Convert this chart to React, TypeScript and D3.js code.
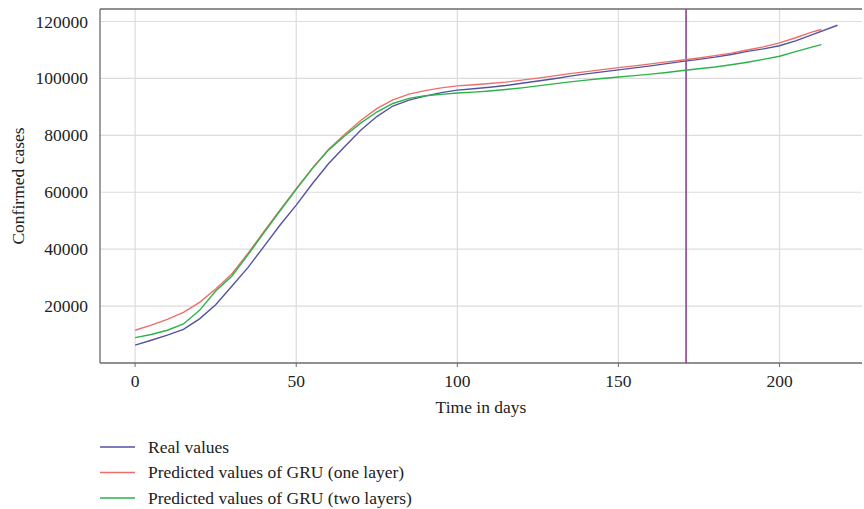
import React from 'react';
import * as d3 from 'd3';

// days sampled every 5 from 0 to 210
const days = [0, 5, 10, 15, 20, 25, 30, 35, 40, 45, 50, 55, 60, 65, 70, 75, 80, 85, 90, 95, 100, 105, 110, 115, 120, 125, 130, 135, 140, 145, 150, 155, 160, 165, 170, 175, 180, 185, 190, 195, 200, 205, 210];

const realValues = [6300, 8000, 9800, 11800, 15500, 20500, 27000, 33500, 41000, 48500, 55500, 63000, 70000, 76000, 81800, 86600, 90300, 92400, 93800, 95000, 95900, 96400, 96900, 97500, 98300, 99100, 99900, 100800, 101600, 102300, 103000, 103700, 104400, 105200, 106000, 106700, 107500, 108400, 109500, 110400, 111500, 113200, 115300];
const realEnd = { day: 218, value: 118700 };

const gruOneLayer = [11500, 13300, 15300, 17800, 21300, 26000, 31300, 38500, 46200, 53800, 61300, 68500, 75000, 80300, 85200, 89400, 92500, 94500, 95700, 96700, 97400, 97800, 98200, 98700, 99400, 100100, 100900, 101700, 102400, 103100, 103800, 104400, 105100, 105800, 106500, 107200, 108000, 108900, 110000, 111100, 112500, 114300, 116300];
const gruOneEnd = { day: 213, value: 117200 };

const gruTwoLayers = [8900, 10000, 11500, 13700, 18500, 25300, 30500, 38000, 45800, 53500, 61000, 68300, 74800, 79800, 84300, 88200, 91200, 93000, 93900, 94400, 94900, 95200, 95600, 96100, 96700, 97400, 98100, 98800, 99400, 100000, 100500, 101000, 101500, 102100, 102800, 103400, 104000, 104800, 105700, 106700, 107800, 109400, 111000];
const gruTwoEnd = { day: 213, value: 111900 };

const splitDay = 171;

const xTicks = [0, 50, 100, 150, 200];
const yTicks = [20000, 40000, 60000, 80000, 100000, 120000];

const seriesNames = ['Real values', 'Predicted values of GRU (one layer)', 'Predicted values of GRU (two layers)'];
const seriesColors = ['#5353a3', '#ec6f6a', '#2bb34a'];

const W = 864;
const H = 509;
const margin = { top: 9, right: 2, bottom: 146, left: 100 };
const font = '"Liberation Serif", "DejaVu Serif", serif';
const fs = 17.5;

export default function App() {
  const x = d3.scaleLinear().domain([-10.9, 225.6]).range([margin.left, W - margin.right]);
  const y = d3.scaleLinear().domain([0, 124400]).range([H - margin.bottom, margin.top]);

  const toPoints = (vals: number[], end: { day: number; value: number }) =>
    [...vals.map((v, i) => [days[i], v] as [number, number]), [end.day, end.value] as [number, number]];

  const series = [
    toPoints(realValues, realEnd),
    toPoints(gruOneLayer, gruOneEnd),
    toPoints(gruTwoLayers, gruTwoEnd),
  ];

  const line = d3.line<[number, number]>().x(d => x(d[0])).y(d => y(d[1]));

  const left = margin.left;
  const right = W - margin.right;
  const top = margin.top;
  const bottom = H - margin.bottom;

  return (
    <svg width={W} height={H} style={{ position: 'absolute', left: 0, top: 0, background: '#fff' }} fontFamily={font}>
      {/* grid */}
      {yTicks.map(t => (
        <line key={'gy' + t} x1={left} x2={right} y1={y(t)} y2={y(t)} stroke="#dcdcdc" strokeWidth={1.2} />
      ))}
      {xTicks.map(t => (
        <line key={'gx' + t} x1={x(t)} x2={x(t)} y1={top} y2={bottom} stroke="#dcdcdc" strokeWidth={1.2} />
      ))}

      {/* frame */}
      <line x1={left} x2={right} y1={top} y2={top} stroke="#6b6b6b" strokeWidth={1.3} />
      <line x1={left} x2={left} y1={top} y2={bottom} stroke="#6b6b6b" strokeWidth={1.3} />
      <line x1={left} x2={right} y1={bottom} y2={bottom} stroke="#6b6b6b" strokeWidth={1.3} />

      {/* x ticks */}
      {xTicks.map(t => (
        <g key={'xt' + t}>
          <line x1={x(t)} x2={x(t)} y1={bottom} y2={bottom + 4} stroke="#6b6b6b" />
          <text x={x(t)} y={bottom + 24} textAnchor="middle" fontSize={fs} fill="#222">{t}</text>
        </g>
      ))}
      {/* y ticks */}
      {yTicks.map(t => (
        <text key={'yt' + t} x={left - 12} y={y(t) + 6} textAnchor="end" fontSize={fs} fill="#222">{t}</text>
      ))}

      {/* split line */}
      <line x1={x(splitDay)} x2={x(splitDay)} y1={top} y2={bottom} stroke="#8e3f8f" strokeWidth={1.6} />

      {/* series */}
      {series.map((s, i) => (
        <path key={'s' + i} d={line(s) || ''} fill="none" stroke={seriesColors[i]} strokeWidth={1.4} />
      ))}

      {/* axis titles */}
      <text x={(left + right) / 2} y={bottom + 50} textAnchor="middle" fontSize={fs} fill="#222">Time in days</text>
      <text transform={`translate(24,${(top + bottom) / 2}) rotate(-90)`} textAnchor="middle" fontSize={fs} fill="#222">Confirmed cases</text>

      {/* legend */}
      {seriesNames.map((name, i) => (
        <g key={'lg' + i} transform={`translate(100,${447 + i * 25.5})`}>
          <line x1={0} x2={35} y1={0} y2={0} stroke={seriesColors[i]} strokeWidth={1.4} />
          <text x={48} y={5.5} fontSize={fs} fill="#222">{name}</text>
        </g>
      ))}
    </svg>
  );
}
